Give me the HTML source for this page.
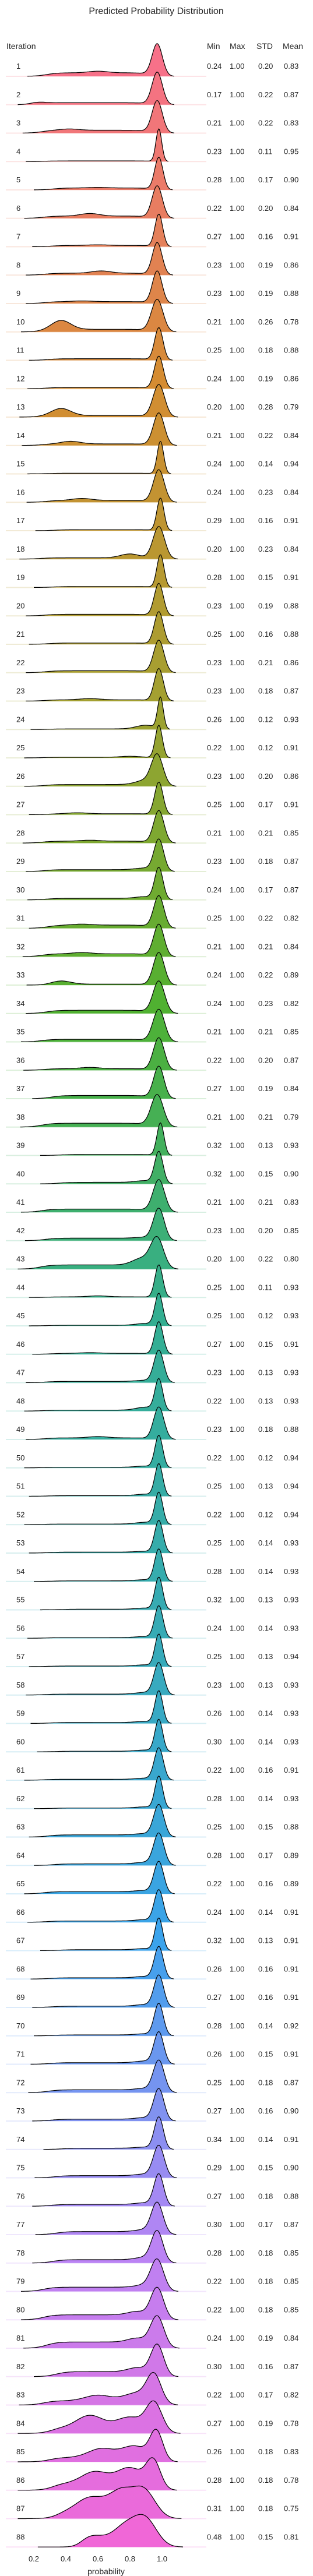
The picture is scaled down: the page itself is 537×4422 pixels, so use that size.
<!DOCTYPE html>
<html><head><meta charset="utf-8">
<style>
html,body{margin:0;padding:0;background:#fff;}
svg{display:block;font-family:"Liberation Sans","DejaVu Sans",sans-serif;}
</style></head>
<body>
<svg id="chart" width="537" height="4422" viewBox="0 0 537 4422" xmlns="http://www.w3.org/2000/svg">
<text x="268" y="24" text-anchor="middle" font-size="16" fill="#262626">Predicted Probability Distribution</text>
<text x="11" y="84" font-size="14" fill="#262626">Iteration</text>
<text x="355" y="84" font-size="14" fill="#262626">Min</text>
<text x="394" y="84" font-size="14" fill="#262626">Max</text>
<text x="440" y="84" font-size="14" fill="#262626">STD</text>
<text x="485" y="84" font-size="14" fill="#262626">Mean</text>
<g id="rows"></g>
<g id="xaxis"></g>
<text x="182" y="4419" text-anchor="middle" font-size="14" fill="#262626">probability</text>
</svg>
<script>
const minVals=[0.24,0.17,0.21,0.23,0.28,0.22,0.27,0.23,0.23,0.21,0.25,0.24,0.20,0.21,0.24,0.24,0.29,0.20,0.28,0.23,0.25,0.23,0.23,0.26,0.22,0.23,0.25,0.21,0.23,0.24,0.25,0.21,0.24,0.24,0.21,0.22,0.27,0.21,0.32,0.32,0.21,0.23,0.20,0.25,0.25,0.27,0.23,0.22,0.23,0.22,0.25,0.22,0.25,0.28,0.32,0.24,0.25,0.23,0.26,0.30,0.22,0.28,0.25,0.28,0.22,0.24,0.32,0.26,0.27,0.28,0.26,0.25,0.27,0.34,0.29,0.27,0.30,0.28,0.22,0.22,0.24,0.30,0.22,0.27,0.26,0.28,0.31,0.48];
const maxVals=Array(88).fill(1.00);
const stdVals=[0.20,0.22,0.22,0.11,0.17,0.20,0.16,0.19,0.19,0.26,0.18,0.19,0.28,0.22,0.14,0.23,0.16,0.23,0.15,0.19,0.16,0.21,0.18,0.12,0.12,0.20,0.17,0.21,0.18,0.17,0.22,0.21,0.22,0.23,0.21,0.20,0.19,0.21,0.13,0.15,0.21,0.20,0.22,0.11,0.12,0.15,0.13,0.13,0.18,0.12,0.13,0.12,0.14,0.14,0.13,0.14,0.13,0.13,0.14,0.14,0.16,0.14,0.15,0.17,0.16,0.14,0.13,0.16,0.16,0.14,0.15,0.18,0.16,0.14,0.15,0.18,0.17,0.18,0.18,0.18,0.19,0.16,0.17,0.19,0.18,0.18,0.18,0.15];
const meanVals=[0.83,0.87,0.83,0.95,0.90,0.84,0.91,0.86,0.88,0.78,0.88,0.86,0.79,0.84,0.94,0.84,0.91,0.84,0.91,0.88,0.88,0.86,0.87,0.93,0.91,0.86,0.91,0.85,0.87,0.87,0.82,0.84,0.89,0.82,0.85,0.87,0.84,0.79,0.93,0.90,0.83,0.85,0.80,0.93,0.93,0.91,0.93,0.93,0.88,0.94,0.94,0.94,0.93,0.93,0.93,0.93,0.94,0.93,0.93,0.93,0.91,0.93,0.88,0.89,0.89,0.91,0.91,0.91,0.91,0.92,0.91,0.87,0.90,0.91,0.90,0.88,0.87,0.85,0.85,0.85,0.84,0.87,0.82,0.78,0.83,0.78,0.75,0.81];
// estimated shape of each density (peak location, peak width, tail level, bumps)
const peakPos=[0.97,0.97,0.97,0.98,0.98,0.97,0.98,0.97,0.97,0.97,0.98,0.98,0.98,0.98,0.99,0.98,0.99,0.98,0.99,0.98,0.98,0.98,0.98,0.99,0.98,0.97,0.98,0.98,0.98,0.98,0.98,0.98,0.98,0.98,0.98,0.98,0.98,0.97,0.99,0.98,0.98,0.98,0.97,0.98,0.98,0.98,0.98,0.98,0.98,0.98,0.98,0.98,0.98,0.98,0.98,0.98,0.98,0.98,0.98,0.98,0.98,0.98,0.98,0.98,0.98,0.98,0.98,0.98,0.98,0.98,0.98,0.98,0.98,0.98,0.98,0.98,0.97,0.97,0.97,0.97,0.97,0.97,0.95,0.95,0.965,0.945,0.89,0.90];
const peakSigma=[0.032,0.032,0.032,0.018,0.026,0.032,0.024,0.03,0.03,0.036,0.026,0.028,0.036,0.034,0.02,0.034,0.022,0.036,0.022,0.028,0.028,0.032,0.028,0.018,0.022,0.036,0.026,0.032,0.03,0.026,0.032,0.032,0.034,0.036,0.036,0.034,0.032,0.038,0.022,0.026,0.036,0.034,0.04,0.024,0.024,0.026,0.03,0.024,0.032,0.024,0.024,0.024,0.026,0.026,0.024,0.026,0.024,0.03,0.024,0.024,0.028,0.024,0.032,0.032,0.03,0.028,0.024,0.028,0.03,0.028,0.03,0.034,0.032,0.028,0.034,0.03,0.036,0.036,0.04,0.04,0.042,0.04,0.045,0.05,0.04,0.045,0.07,0.07];
const tailLevel=[0.11,0.06,0.09,0.02,0.06,0.07,0.04,0.06,0.06,0.08,0.05,0.04,0.05,0.05,0.02,0.06,0.03,0.04,0.03,0.05,0.04,0.06,0.04,0.02,0.02,0.06,0.03,0.06,0.06,0.05,0.1,0.09,0.03,0.1,0.08,0.05,0.1,0.12,0.03,0.05,0.1,0.08,0.14,0.02,0.02,0.03,0.04,0.03,0.05,0.02,0.02,0.02,0.03,0.02,0.02,0.02,0.02,0.03,0.03,0.02,0.03,0.02,0.07,0.05,0.07,0.04,0.03,0.04,0.04,0.03,0.05,0.09,0.06,0.04,0.07,0.06,0.1,0.11,0.14,0.16,0.2,0.16,0.15,0.2,0.15,0.25,0.3,0.15];
const bumpPos=[0.6,0.2,0.42,0.5,0.6,0.55,0.6,0.62,0.5,0.37,0.6,0.6,0.37,0.43,0.6,0.5,0.6,0.8,0.6,0.8,0.6,0.5,0.55,0.9,0.8,0.9,0.47,0.55,0.9,0.9,0.5,0.5,0.37,0.5,0.6,0.55,0.6,0.45,0.6,0.9,0.45,0.9,0.88,0.6,0.9,0.55,0.9,0.9,0.6,0.9,0.9,0.9,0.9,0.9,0.9,0.9,0.9,0.9,0.9,0.9,0.9,0.9,0.9,0.9,0.9,0.9,0.9,0.9,0.9,0.9,0.9,0.9,0.9,0.9,0.9,0.9,0.9,0.9,0.9,0.85,0.85,0.85,0.6,0.55,0.62,0.58,0.55,0.55];
const bumpLevel=[0.05,0.05,0.04,0.0,0.02,0.08,0.02,0.07,0.02,0.28,0.0,0.0,0.22,0.08,0.0,0.06,0.0,0.12,0.0,0.0,0.0,0.0,0.04,0.12,0.03,0.15,0.03,0.03,0.06,0.06,0.03,0.04,0.1,0.0,0.0,0.04,0.0,0.0,0.0,0.06,0.0,0.04,0.25,0.03,0.06,0.02,0.04,0.1,0.04,0.04,0.05,0.06,0.03,0.04,0.04,0.04,0.04,0.06,0.04,0.04,0.04,0.04,0.05,0.06,0.05,0.05,0.04,0.05,0.06,0.04,0.06,0.06,0.06,0.04,0.06,0.06,0.08,0.1,0.1,0.12,0.14,0.14,0.2,0.4,0.3,0.4,0.5,0.35];
const bump2Pos=Array(82).fill(0.85).concat([0.85,0.8,0.83,0.8,0.75,0.78]);
const bump2Level=Array(82).fill(0).concat([0.3,0.35,0.4,0.55,0.8,0.75]);
const tickVals=[0.2,0.4,0.6,0.8,1.0];
const tickLabels=["0.2","0.4","0.6","0.8","1.0"];

const NS="http://www.w3.org/2000/svg";
const X0=58, XS=275;
function xs(v){return X0+(v-0.2)*XS;}
const BASE0=131, STEP=48.75, PEAK=56;
function yb(i){return BASE0+i*STEP;}
const anchors=["#f77189","#d58c32","#a4a031","#50b131","#34ae91","#37abb5","#3ba3ec","#bb83f4","#f564d4","#f77189"];
function hex(c){return [1,3,5].map(k=>parseInt(c.substr(k,2),16));}
function color(i,n){const t=i/n*8;const k=Math.floor(t);const f=t-k;const a=hex(anchors[k]),b=hex(anchors[k+1]);
  return a.map((v,j)=>Math.round(v+(b[j]-v)*f));}
function sig(z){return 1/(1+Math.exp(-z));}
function dens(i,v){
  const mu=peakPos[i],s=peakSigma[i];
  let d=Math.exp(-0.5*((v-mu)/s)**2);
  const plat=tailLevel[i]*sig((v-minVals[i]-0.04)/0.035)*sig((mu-1.5*s-v)/0.03);
  d+=plat;
  const w=i>=82?0.08:0.06;
  d+=bumpLevel[i]*Math.exp(-0.5*((v-bumpPos[i])/w)**2)*sig((v-minVals[i])/0.03);
  d+=bump2Level[i]*Math.exp(-0.5*((v-bump2Pos[i])/0.08)**2);
  return d;
}
const rows=document.getElementById('rows');
const n=88;
for(let i=0;i<n;i++){
  const g=document.createElementNS(NS,'g');
  
  
  const c=color(i,n);const col='rgb('+c.join(',')+')';
  const y0=yb(i);
  const line=document.createElementNS(NS,'line');
  
  
  line.setAttribute('x1',10);line.setAttribute('x2',354);line.setAttribute('y1',y0);line.setAttribute('y2',y0);
  line.setAttribute('stroke',col);line.setAttribute('stroke-opacity','0.2');line.setAttribute('stroke-width','2');
  g.appendChild(line);
  const s=peakSigma[i];
  const vStart=Math.max(0.1,minVals[i]-Math.max(0.08,2.5*s)-(i>=83?0.08:0));
  const vEnd=peakPos[i]+3.3*s;
  const pts=[];let mx=0;const N=160;const vals=[];
  for(let k=0;k<=N;k++){const v=vStart+(vEnd-vStart)*k/N;const d=dens(i,v);vals.push([v,d]);if(d>mx)mx=d;}
  vals.forEach(([v,d])=>pts.push(xs(v).toFixed(1)+','+(y0-d/mx*PEAK).toFixed(1)));
  const fill=document.createElementNS(NS,'path');
  
  
  fill.setAttribute('d','M'+xs(vStart).toFixed(1)+','+y0+' L'+pts.join(' L')+' L'+xs(vEnd).toFixed(1)+','+y0+' Z');
  fill.setAttribute('fill',col);
  g.appendChild(fill);
  const out=document.createElementNS(NS,'polyline');
  
  
  out.setAttribute('points',pts.join(' '));
  out.setAttribute('fill','none');out.setAttribute('stroke','#000');out.setAttribute('stroke-width','1.2');
  g.appendChild(out);
  const lbl=document.createElementNS(NS,'text');
  
  
  lbl.setAttribute('x',28);lbl.setAttribute('y',y0-13);lbl.setAttribute('font-size','13');lbl.setAttribute('fill','#262626');
  lbl.textContent=String(i+1);g.appendChild(lbl);
  const stats=[[minVals[i],355,'min'],[maxVals[i],394,'max'],[stdVals[i],443,'std'],[meanVals[i],487,'mean']];
  stats.forEach(([v,x,nm])=>{
    const t=document.createElementNS(NS,'text');
    
    
    t.setAttribute('x',x);t.setAttribute('y',y0-13);t.setAttribute('font-size','13');t.setAttribute('fill','#262626');
    t.textContent=v.toFixed(2);g.appendChild(t);
  });
  rows.appendChild(g);
}
const xa=document.getElementById('xaxis');
tickVals.forEach((v,k)=>{
  const t=document.createElementNS(NS,'text');
  
  
  t.setAttribute('x',xs(v));t.setAttribute('y',4397);t.setAttribute('text-anchor','middle');
  t.setAttribute('font-size','13');t.setAttribute('fill','#262626');
  t.textContent=tickLabels[k];xa.appendChild(t);
});
</script>
</body></html>
